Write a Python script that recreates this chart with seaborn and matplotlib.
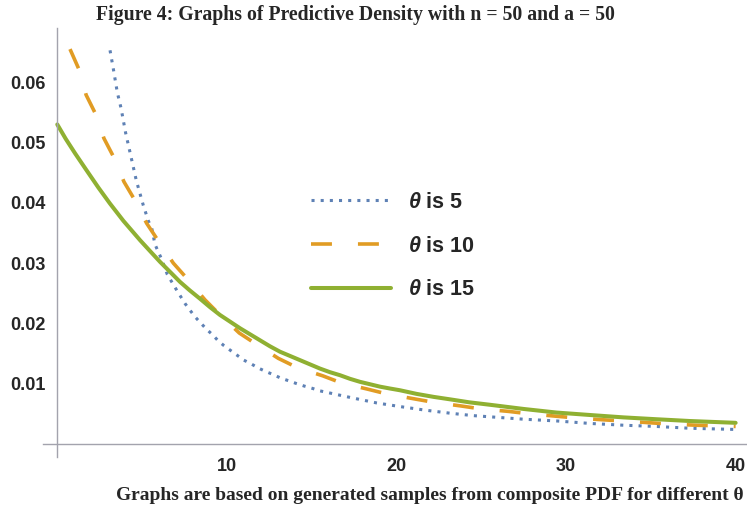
import numpy as np
import pandas as pd
import matplotlib
matplotlib.use("Agg")
import matplotlib.pyplot as plt
import seaborn as sns
from matplotlib.ticker import FixedLocator, MultipleLocator, FormatStrFormatter

# values
x_theta5 = [3.11, 3.30, 3.54, 3.76, 4.03, 4.35, 4.66, 5.07, 5.37, 5.57, 5.76, 6.16, 6.49,
            7.00, 7.53, 7.82, 8.12, 8.41, 8.81, 9.16, 9.49, 9.83, 10.22, 10.61, 11.00,
            11.42, 11.85, 12.30, 12.74, 13.19, 13.62, 14.12, 14.56, 15.06, 15.49,
            15.98, 16.47, 16.96, 17.46, 18.83, 20.20, 21.70, 23.15, 24.50, 26.00,
            27.50, 29.50, 31.40, 33.40, 35.30, 37.30, 40.00]
y_theta5 = [0.0653, 0.0623, 0.0583, 0.0557, 0.0516, 0.0476, 0.0437, 0.0396, 0.0370, 0.0358,
            0.0331, 0.0306, 0.0281, 0.0257, 0.0233, 0.0222, 0.0211, 0.0202, 0.0190,
            0.0181, 0.0171, 0.0163, 0.0155, 0.0147, 0.0139, 0.0133, 0.0126, 0.0120,
            0.0115, 0.0109, 0.0105, 0.0100, 0.0096, 0.0092, 0.0088, 0.0085, 0.0082,
            0.0079, 0.0076, 0.0068, 0.0062, 0.0056, 0.0051, 0.0047, 0.0044, 0.0041,
            0.0038, 0.0034, 0.0031, 0.0029, 0.0026, 0.0024]

x_theta10 = [0.75, 1.30, 1.70, 2.30, 2.75, 3.36, 3.93, 4.58, 5.27, 6.00, 6.84, 7.63, 8.71,
             9.49, 10.73, 11.65, 13.03, 14.12, 15.65, 16.77, 18.28, 19.42, 21.00, 22.20,
             23.80, 25.00, 26.60, 27.80, 29.40, 30.60, 32.20, 33.40, 35.00, 36.10,
             37.70, 39.00, 40.00]
y_theta10 = [0.0655, 0.0620, 0.0579, 0.0545, 0.0507, 0.0474, 0.0435, 0.0404, 0.0366, 0.0335,
             0.0300, 0.0275, 0.0239, 0.0217, 0.0184, 0.0167, 0.0142, 0.0127, 0.0113,
             0.0101, 0.0091, 0.0083, 0.0075, 0.0069, 0.0063, 0.0058, 0.0054, 0.0050,
             0.0046, 0.0043, 0.0040, 0.0038, 0.0035, 0.0033, 0.0031, 0.0030, 0.0029]

x_theta15 = [0.0, 0.5, 1.05, 1.7, 2.43, 3.1, 3.9, 4.88, 5.5, 6.06, 6.7, 7.23, 7.8, 8.41,
             9.0, 9.59, 10.18, 10.77, 11.36, 11.95, 12.54, 13.13, 13.72, 14.31, 14.9,
             15.49, 16.08, 16.67, 17.26, 17.85, 18.44, 19.03, 19.6, 20.21, 21.19, 22.2,
             23.15, 24.3, 25.5, 27.5, 29.45, 31.4, 33.4, 35.3, 37.3, 40.0]
y_theta15 = [0.0530, 0.0506, 0.0482, 0.0455, 0.0425, 0.0399, 0.0370, 0.0338, 0.0319, 0.0302,
             0.0284, 0.0269, 0.0255, 0.0241, 0.0227, 0.0214, 0.0203, 0.0192, 0.0182,
             0.0172, 0.0162, 0.0153, 0.0146, 0.0139, 0.0132, 0.0125, 0.0119, 0.0114,
             0.0108, 0.0103, 0.0099, 0.0095, 0.0092, 0.0089, 0.0083, 0.0078, 0.0074,
             0.0069, 0.0065, 0.0058, 0.0052, 0.0048, 0.0044, 0.0041, 0.0038, 0.0035]

labels = ["$\\theta$ is 5", "$\\theta$ is 10", "$\\theta$ is 15"]
x_ticks = [10, 20, 30, 40]
y_ticks = [0.01, 0.02, 0.03, 0.04, 0.05, 0.06]

sns.set_style("white")
plt.rcParams["font.family"] = ["Liberation Sans", "DejaVu Sans"]
plt.rcParams["mathtext.fontset"] = "custom"
plt.rcParams["mathtext.it"] = "Liberation Sans:bold:italic"
plt.rcParams["mathtext.rm"] = "Liberation Sans:bold"

fig = plt.figure(figsize=(7.47, 5.12), dpi=100)
ax = fig.add_axes([42.7 / 747, 1 - 456.7 / 512, 1 - 42.7 / 747, (456.7 - 28) / 512])

series = [
    (x_theta5, y_theta5, "#5e81b5", 2.2, (0, (1.0, 2.0))),
    (x_theta10, y_theta10, "#e19c24", 2.6, (0, (5.8, 7.2))),
    (x_theta15, y_theta15, "#8fb032", 2.9, "-"),
]
for (xs, ys, col, lw, ls), lab in zip(series, labels):
    df = pd.DataFrame({"x": xs, "y": ys})
    sns.lineplot(data=df, x="x", y="y", ax=ax, color=col, linewidth=lw,
                 linestyle=ls, label=lab, sort=False, estimator=None)

ax.set_xlim(-0.86, 40.67)
ax.set_ylim(-0.00212, 0.069)
ax.set_xlabel("")
ax.set_ylabel("")

axis_col = "#a3a3ad"
for side in ["top", "right"]:
    ax.spines[side].set_visible(False)
ax.spines["left"].set_position(("data", 0))
ax.spines["bottom"].set_position(("data", 0))
for side in ["left", "bottom"]:
    ax.spines[side].set_color(axis_col)
    ax.spines[side].set_linewidth(1.0)

ax.xaxis.set_major_locator(FixedLocator(x_ticks))
ax.xaxis.set_minor_locator(MultipleLocator(2))
ax.yaxis.set_major_locator(FixedLocator(y_ticks))
ax.yaxis.set_minor_locator(MultipleLocator(0.002))
ax.yaxis.set_major_formatter(FormatStrFormatter("%.2f"))
ax.tick_params(which="major", direction="in", length=3.2, width=0.9, color=axis_col,
               labelsize=13)
ax.tick_params(which="minor", direction="in", length=1.8, width=0.8, color=axis_col)
ax.tick_params(axis="y", which="major", pad=8.5)
ax.tick_params(axis="x", which="major", pad=10)
for lbl in ax.get_xticklabels() + ax.get_yticklabels():
    lbl.set_fontweight("bold")

leg = ax.legend(loc="center left", bbox_to_anchor=(311 / 747, 1 - 246 / 512),
                bbox_transform=fig.transFigure, frameon=False, borderpad=0,
                borderaxespad=0, handlelength=3.7, handletextpad=0.8,
                labelspacing=1.05, prop={"size": 15.5, "weight": "bold"})

fig.text(355 / 747, 1 - 15 / 512,
         "Figure 4: Graphs of Predictive Density with n = 50 and a = 50",
         ha="center", va="center", fontsize=14.2, fontweight="bold",
         family=["Liberation Serif", "DejaVu Serif"])
fig.text(430 / 747, 1 - 496 / 512,
         "Graphs are based on generated samples from composite PDF for different \u03b8",
         ha="center", va="center", fontsize=14, fontweight="bold",
         family=["Liberation Serif", "DejaVu Serif"])

fig.savefig("out.png", dpi=100)
